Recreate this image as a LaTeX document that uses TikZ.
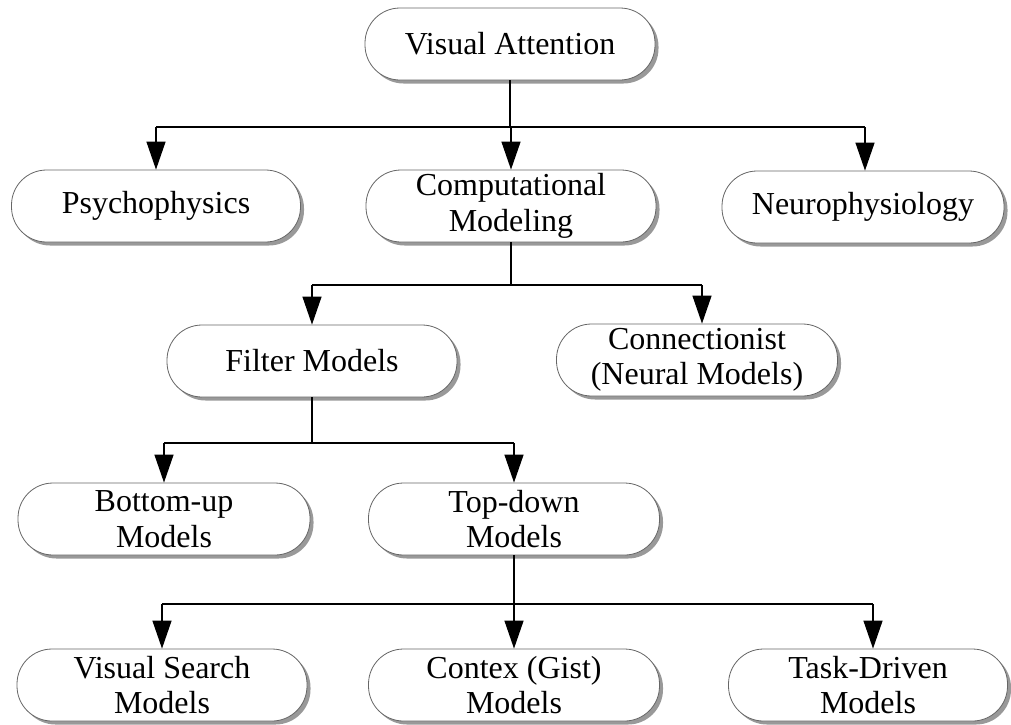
\documentclass[tikz,border=0pt]{standalone}
\usepackage{fontspec}
\setmainfont{Liberation Serif}
\usetikzlibrary{arrows.meta,shadows}

\tikzset{
  topic/.style={
    draw=gray!80!black, line width=0.8pt, fill=white,
    rounded corners=35pt, minimum height=72pt, inner sep=0pt,
    align=center, font=\fontsize{32}{35.5}\selectfont,
    drop shadow={shadow xshift=3.5pt, shadow yshift=-3.5pt, fill=gray!80, opacity=1}
  },
  link/.style={line width=1.3pt, black},
  feed/.style={link, -{Triangle[length=28pt,width=19pt]}}
}

\begin{document}
\begin{tikzpicture}[x=1pt, y=-1pt]
  \useasboundingbox (0,0) rectangle (1011,724);

  % levels of the tree
  \node[topic, minimum width=290pt] (va) at (510,44) {Visual Attention};

  \node[topic, minimum width=289pt] (psy)   at (156,206) {Psychophysics};
  \node[topic, minimum width=290pt] (comp)  at (511,206) {Computational\\Modeling};
  \node[topic, minimum width=282pt] (neuro) at (863,207) {Neurophysiology};

  \node[topic, minimum width=290pt] (filter) at (312,361) {Filter Models};
  \node[topic, minimum width=281pt] (conn)   at (697,360) {Connectionist\\(Neural Models)};

  \node[topic, minimum width=292pt] (bu) at (164,519) {Bottom-up\\Models};
  \node[topic, minimum width=291pt] (td) at (514,519) {Top-down\\Models};

  \node[topic, minimum width=290pt] (vs)   at (162,685) {Visual Search\\Models};
  \node[topic, minimum width=291pt] (gist) at (514,685) {Contex (Gist)\\Models};
  \node[topic, minimum width=279pt] (task) at (868,685) {Task-Driven\\Models};

  % horizontal distribution bars
  \coordinate (bus1) at (0,127);
  \coordinate (bus2) at (0,285);
  \coordinate (bus3) at (0,443);
  \coordinate (bus4) at (0,604);

  % drop points that sit a little right of the node centre
  \coordinate (neuroIn) at ([xshift=2pt]neuro.north);
  \coordinate (connIn)  at ([xshift=5pt]conn.north);
  \coordinate (taskIn)  at ([xshift=5pt]task.north);

  % Visual Attention -> three fields
  \draw[link] (va.south) -- (va.south |- bus1);
  \draw[link] (bus1 -| psy.north) -- (bus1 -| neuroIn);
  \draw[feed] (bus1 -| psy.north) -- (psy.north);
  \draw[feed] (bus1 -| comp.north) -- (comp.north);
  \draw[feed] (bus1 -| neuroIn) -- (neuroIn);

  % Computational Modeling -> model families
  \draw[link] (comp.south) -- (comp.south |- bus2);
  \draw[link] (bus2 -| filter.north) -- (bus2 -| connIn);
  \draw[feed] (bus2 -| filter.north) -- (filter.north);
  \draw[feed] (bus2 -| connIn) -- (connIn);

  % Filter Models -> bottom-up / top-down
  \draw[link] (filter.south) -- (filter.south |- bus3);
  \draw[link] (bus3 -| bu.north) -- (bus3 -| td.north);
  \draw[feed] (bus3 -| bu.north) -- (bu.north);
  \draw[feed] (bus3 -| td.north) -- (td.north);

  % Top-down Models -> three kinds
  \draw[link] (td.south) -- (td.south |- bus4);
  \draw[link] (bus4 -| vs.north) -- (bus4 -| taskIn);
  \draw[feed] (bus4 -| vs.north) -- (vs.north);
  \draw[feed] (bus4 -| gist.north) -- (gist.north);
  \draw[feed] (bus4 -| taskIn) -- (taskIn);
\end{tikzpicture}
\end{document}
